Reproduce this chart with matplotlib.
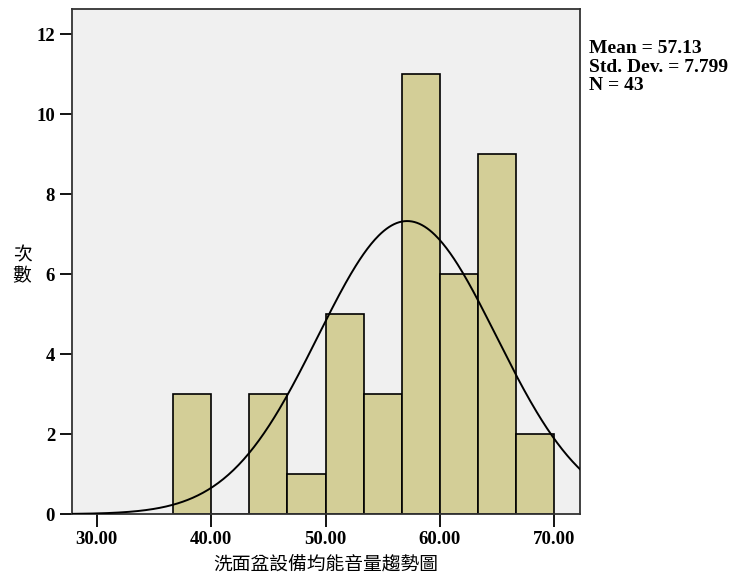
import matplotlib
matplotlib.use("Agg")
import matplotlib.pyplot as plt
import numpy as np

# histogram data
bin_edges = [36.67, 40.00, 43.33, 46.67, 50.00, 53.33, 56.67, 60.00, 63.33, 66.67, 70.00]
counts = [3, 0, 3, 1, 5, 3, 11, 6, 9, 2]
mean = 57.13
std = 7.799
n = 43

x_ticks = [30, 40, 50, 60, 70]
x_ticklabels = ["30.00", "40.00", "50.00", "60.00", "70.00"]
y_ticks = [0, 2, 4, 6, 8, 10, 12]

BAR = "#d3ce97"
BG = "#f0f0f0"
SERIF = ["Liberation Serif", "DejaVu Serif"]
CJK = ["Noto Sans CJK TC", "DejaVu Sans"]

fig = plt.figure(figsize=(7.32, 5.77), dpi=100)
ax = fig.add_axes([0.098, 0.109, 0.6945, 0.875])
ax.set_facecolor(BG)

edges = np.array(bin_edges)
widths = np.diff(edges)
ax.bar(edges[:-1], counts, width=widths, align="edge", color=BAR,
       edgecolor="black", linewidth=1.2, zorder=2)

# fitted normal curve scaled to counts
xmin, xmax = 27.81, 72.25
xs = np.linspace(xmin, xmax, 400)
bw = widths.mean()
ys = n * bw / (std * np.sqrt(2 * np.pi)) * np.exp(-0.5 * ((xs - mean) / std) ** 2)
ax.plot(xs, ys, color="black", linewidth=1.4, zorder=3)

ax.set_xlim(xmin, xmax)
ax.set_ylim(0, 12.63)
ax.set_xticks(x_ticks)
ax.set_xticklabels(x_ticklabels)
ax.set_yticks(y_ticks)
for lab in ax.get_xticklabels() + ax.get_yticklabels():
    lab.set_family(SERIF)
    lab.set_fontweight("bold")
    lab.set_fontsize(13.5)
ax.tick_params(direction="out", length=9, width=1.3, color="black", pad=3)
for sp in ax.spines.values():
    sp.set_linewidth(1.3)
    sp.set_color("#333333")

ax.set_xlabel("洗面盆設備均能音量趨勢圖", family=CJK, fontsize=13.5, fontweight="medium", labelpad=4)
fig.text(0.030, 0.54, "次\n數", family=CJK, fontsize=13.5, fontweight="medium",
         ha="center", va="center", linespacing=1.0)

fig.text(0.805, 0.930, "Mean = 57.13\nStd. Dev. = 7.799\nN = 43", family=SERIF,
         fontsize=14, fontweight="bold", ha="left", va="top", linespacing=1.1)

fig.savefig("out.png", dpi=100, facecolor="white")
